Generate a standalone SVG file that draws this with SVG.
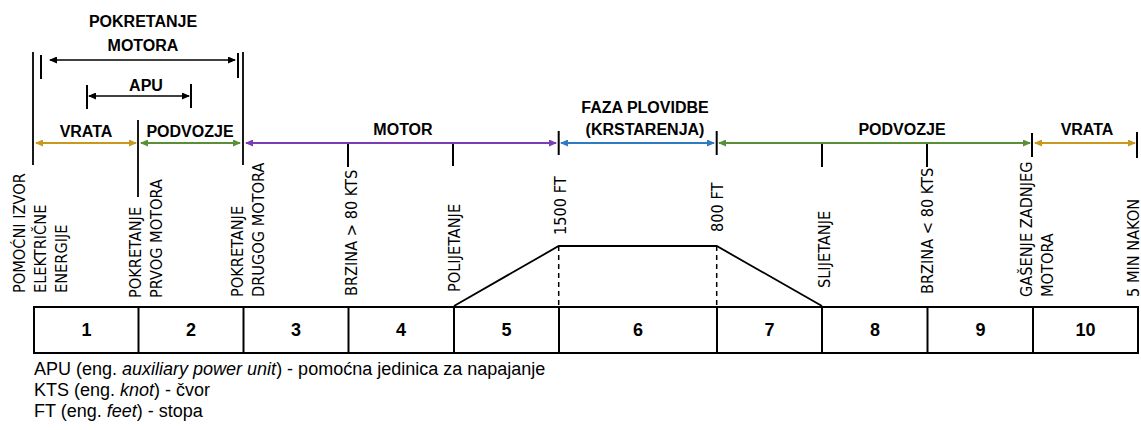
<svg xmlns="http://www.w3.org/2000/svg" width="1141" height="430" viewBox="0 0 1141 430">
<style>
.bg{fill:#fff}
.lbl{font-family:"Liberation Sans",Arial,sans-serif;font-weight:bold;font-size:16px;fill:#000;text-anchor:middle}
.num{font-family:"Liberation Sans",Arial,sans-serif;font-weight:bold;font-size:18px;fill:#000;text-anchor:middle}
.vt{font-family:"DejaVu Sans Condensed","DejaVu Sans",sans-serif;font-stretch:condensed;font-size:16.2px;fill:#000}
.fn{font-family:"Liberation Sans",Arial,sans-serif;font-size:18px;fill:#000}
.tick{stroke:#000;stroke-width:2;fill:none}
.thin{stroke:#000;stroke-width:1.8;fill:none}
.dash{stroke:#000;stroke-width:1.5;stroke-dasharray:5 4;fill:none}
.box{stroke:#000;stroke-width:2;fill:#fff}
.ab{stroke:#000;stroke-width:1.6;fill:none}
.agold{stroke:#C8991E;stroke-width:2;fill:none}
.agreen{stroke:#5A8F3A;stroke-width:2;fill:none}
.apurple{stroke:#7B3DB5;stroke-width:2;fill:none}
.ablue{stroke:#2E7BC4;stroke-width:2;fill:none}
</style>
<defs>
<marker id="mk-black" viewBox="0 0 8 7" markerWidth="8" markerHeight="7" refX="7" refY="3.5" markerUnits="userSpaceOnUse" orient="auto-start-reverse"><path d="M0,0 L8,3.5 L0,7 z" fill="#000"/></marker>
<marker id="mk-gold" viewBox="0 0 8 7" markerWidth="8" markerHeight="7" refX="7" refY="3.5" markerUnits="userSpaceOnUse" orient="auto-start-reverse"><path d="M0,0 L8,3.5 L0,7 z" fill="#C8991E"/></marker>
<marker id="mk-green" viewBox="0 0 8 7" markerWidth="8" markerHeight="7" refX="7" refY="3.5" markerUnits="userSpaceOnUse" orient="auto-start-reverse"><path d="M0,0 L8,3.5 L0,7 z" fill="#5A8F3A"/></marker>
<marker id="mk-purple" viewBox="0 0 8 7" markerWidth="8" markerHeight="7" refX="7" refY="3.5" markerUnits="userSpaceOnUse" orient="auto-start-reverse"><path d="M0,0 L8,3.5 L0,7 z" fill="#7B3DB5"/></marker>
<marker id="mk-blue" viewBox="0 0 8 7" markerWidth="8" markerHeight="7" refX="7" refY="3.5" markerUnits="userSpaceOnUse" orient="auto-start-reverse"><path d="M0,0 L8,3.5 L0,7 z" fill="#2E7BC4"/></marker>
</defs>
<rect class="bg" x="0" y="0" width="1141" height="430"/>

<g id="ticks">
<line class="thin" x1="33" y1="52" x2="33" y2="165"/>
<line class="tick" x1="41" y1="55" x2="41" y2="79"/>
<line class="tick" x1="238" y1="53" x2="238" y2="78"/>
<line class="thin" x1="243" y1="52" x2="243" y2="165"/>
<line class="tick" x1="87" y1="85" x2="87" y2="109"/>
<line class="tick" x1="191" y1="84" x2="191" y2="108"/>
<line class="thin" x1="138" y1="120" x2="138" y2="197"/>
<line class="tick" x1="348" y1="143" x2="348" y2="167"/>
<line class="tick" x1="453" y1="143" x2="453" y2="166"/>
<line class="tick" x1="558.7" y1="131" x2="558.7" y2="155"/>
<line class="tick" x1="716.7" y1="131" x2="716.7" y2="155"/>
<line class="tick" x1="822" y1="143" x2="822" y2="167"/>
<line class="tick" x1="927" y1="143" x2="927" y2="167"/>
<line class="tick" x1="1032" y1="133" x2="1032" y2="157"/>
<line class="tick" x1="1137" y1="132" x2="1137" y2="158"/>
</g>

<g id="connectors">
<line class="ab" x1="50" y1="60" x2="235" y2="60" marker-start="url(#mk-black)" marker-end="url(#mk-black)"/>
<line class="ab" x1="89" y1="96" x2="189" y2="96" marker-start="url(#mk-black)" marker-end="url(#mk-black)"/>
<line class="agold" x1="36" y1="143" x2="136" y2="143" marker-start="url(#mk-gold)" marker-end="url(#mk-gold)"/>
<line class="agreen" x1="141" y1="143" x2="240" y2="143" marker-start="url(#mk-green)" marker-end="url(#mk-green)"/>
<line class="apurple" x1="246" y1="143" x2="556" y2="143" marker-start="url(#mk-purple)" marker-end="url(#mk-purple)"/>
<line class="ablue" x1="561" y1="143" x2="714" y2="143" marker-start="url(#mk-blue)" marker-end="url(#mk-blue)"/>
<line class="agreen" x1="719" y1="143" x2="1030" y2="143" marker-start="url(#mk-green)" marker-end="url(#mk-green)"/>
<line class="agold" x1="1035" y1="143" x2="1135" y2="143" marker-start="url(#mk-gold)" marker-end="url(#mk-gold)"/>
</g>

<g id="phase-labels">
<text class="lbl" x="143" y="26.5">POKRETANJE</text>
<text class="lbl" x="143" y="50.5">MOTORA</text>
<text class="lbl" x="146" y="90.5">APU</text>
<text class="lbl" x="86" y="137">VRATA</text>
<text class="lbl" x="190" y="137">PODVOZJE</text>
<text class="lbl" x="403" y="135">MOTOR</text>
<text class="lbl" x="645" y="113">FAZA PLOVIDBE</text>
<text class="lbl" x="645" y="135">(KRSTARENJA)</text>
<text class="lbl" x="902" y="135">PODVOZJE</text>
<text class="lbl" x="1087" y="135">VRATA</text>
</g>

<g id="events">
<text class="vt" transform="translate(25,293) rotate(-90)">POMOĆNI IZVOR</text>
<text class="vt" transform="translate(46,293) rotate(-90)">ELEKTRIČNE</text>
<text class="vt" transform="translate(67,293) rotate(-90)">ENERGIJE</text>
<text class="vt" transform="translate(141,298) rotate(-90)">POKRETANJE</text>
<text class="vt" transform="translate(162,298) rotate(-90)">PRVOG MOTORA</text>
<text class="vt" transform="translate(243,297) rotate(-90)">POKRETANJE</text>
<text class="vt" transform="translate(264,297) rotate(-90)">DRUGOG MOTORA</text>
<text class="vt" transform="translate(357,296) rotate(-90)">BRZINA &gt; 80 KTS</text>
<text class="vt" transform="translate(460,292) rotate(-90)">POLIJETANJE</text>
<text class="vt" transform="translate(566,235) rotate(-90)">1500 FT</text>
<text class="vt" transform="translate(723,232) rotate(-90)">800 FT</text>
<text class="vt" transform="translate(830,288) rotate(-90)">SLIJETANJE</text>
<text class="vt" transform="translate(933,294) rotate(-90)">BRZINA &lt; 80 KTS</text>
<text class="vt" transform="translate(1032,297) rotate(-90)">GAŠENJE ZADNJEG</text>
<text class="vt" transform="translate(1053,297) rotate(-90)">MOTORA</text>
<text class="vt" transform="translate(1139,297) rotate(-90)">5 MIN NAKON</text>
</g>

<g id="altitude-profile">
<polyline class="thin" points="454,306 558.7,246 716.7,246 822,306"/>
<line class="dash" x1="558.7" y1="246" x2="558.7" y2="306"/>
<line class="dash" x1="716.7" y1="246" x2="716.7" y2="306"/>
</g>

<g id="segments">
<rect class="box" x="34" y="307" width="1104" height="46"/>
<line class="tick" x1="138.5" y1="307" x2="138.5" y2="353"/>
<line class="tick" x1="243.5" y1="307" x2="243.5" y2="353"/>
<line class="tick" x1="348.5" y1="307" x2="348.5" y2="353"/>
<line class="tick" x1="454" y1="307" x2="454" y2="353"/>
<line class="tick" x1="559" y1="307" x2="559" y2="353"/>
<line class="tick" x1="717" y1="307" x2="717" y2="353"/>
<line class="tick" x1="822" y1="307" x2="822" y2="353"/>
<line class="tick" x1="927.5" y1="307" x2="927.5" y2="353"/>
<line class="tick" x1="1033" y1="307" x2="1033" y2="353"/>
<text class="num" x="86.5" y="336">1</text>
<text class="num" x="191" y="336">2</text>
<text class="num" x="296" y="336">3</text>
<text class="num" x="401" y="336">4</text>
<text class="num" x="506.5" y="336">5</text>
<text class="num" x="638" y="336">6</text>
<text class="num" x="769.5" y="336">7</text>
<text class="num" x="875" y="336">8</text>
<text class="num" x="980.5" y="336">9</text>
<text class="num" x="1085.5" y="336">10</text>
</g>

<g id="legend">
<text class="fn" x="34" y="375">APU (eng. <tspan font-style="italic">auxiliary power unit</tspan>) - pomoćna jedinica za napajanje</text>
<text class="fn" x="34" y="396">KTS (eng. <tspan font-style="italic">knot</tspan>) - čvor</text>
<text class="fn" x="34" y="417">FT (eng. <tspan font-style="italic">feet</tspan>) - stopa</text>
</g>
</svg>
